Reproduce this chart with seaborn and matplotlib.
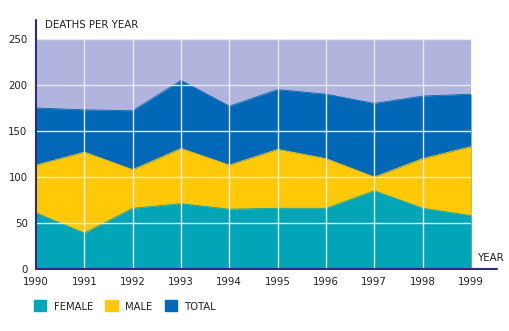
import matplotlib
matplotlib.use("Agg")
import matplotlib.pyplot as plt
from matplotlib.patches import Patch
from matplotlib.lines import Line2D
import seaborn as sns
import pandas as pd

years = [1990, 1991, 1992, 1993, 1994, 1995, 1996, 1997, 1998, 1999]
female = [61, 39, 66, 71, 65, 66, 66, 85, 66, 58]
male = [113, 127, 108, 131, 113, 130, 120, 100, 120, 133]
total = [175, 173, 172, 205, 177, 195, 190, 180, 188, 190]
yticks = [0, 50, 100, 150, 200, 250]

C_BG = "#b1b5dd"
C_TOTAL = "#0068b7"
C_MALE = "#ffc907"
C_FEMALE = "#00a5b8"
C_AXIS = "#2e2c7c"
C_TEXT = "#231f20"

sns.set_style("white")
plt.rcParams["font.family"] = ["DejaVu Sans"]
plt.rcParams["font.stretch"] = "condensed"

df = pd.DataFrame({"year": years, "FEMALE": female, "MALE": male, "TOTAL": total})

fig = plt.figure(figsize=(5.10, 3.31), dpi=100)
ax = fig.add_axes([36 / 510, 1 - 269 / 331, 435 / 510, 230 / 331])
ax.set_facecolor(C_BG)

for col, c in [("TOTAL", C_TOTAL), ("MALE", C_MALE), ("FEMALE", C_FEMALE)]:
    ax.fill_between(df["year"], 0, df[col], color=c, lw=0, zorder=2)
    sns.lineplot(data=df, x="year", y=col, ax=ax, color=c, lw=0.6, zorder=2)

ax.set_xlim(years[0], years[-1])
ax.set_ylim(0, 250)
ax.set_xticks(years)
ax.set_yticks(yticks)
for y in yticks[1:]:
    ax.axhline(y, color="#e6e8f4", lw=1.0, zorder=3)
for x in years[1:-1]:
    ax.axvline(x, color="#e6e8f4", lw=1.0, zorder=3)

for s in ax.spines.values():
    s.set_visible(False)
ax.set_xlabel("")
ax.set_ylabel("")
ax.tick_params(axis="both", length=0, labelsize=8.2, colors=C_TEXT)
ax.tick_params(axis="x", pad=6)
ax.tick_params(axis="y", pad=6)

# axis lines extending beyond the plot
fig.add_artist(Line2D([36 / 510, 36 / 510], [1 - 269 / 331, 1 - 20 / 331], color=C_AXIS, lw=1.5))
fig.add_artist(Line2D([36 / 510, 497 / 510], [1 - 269 / 331, 1 - 269 / 331], color=C_AXIS, lw=1.5))

fig.text(45 / 510, 1 - 25 / 331, "DEATHS PER YEAR", fontsize=8.2, color=C_TEXT, va="center", ha="left")
fig.text(477 / 510, 1 - 258 / 331, "YEAR", fontsize=8.2, color=C_TEXT, va="center", ha="left")

handles = [Patch(color=C_FEMALE, label="FEMALE"), Patch(color=C_MALE, label="MALE"),
           Patch(color=C_TOTAL, label="TOTAL")]
leg = fig.legend(handles=handles, loc="center left", bbox_to_anchor=(34 / 510, 1 - 306 / 331), ncol=3,
                 frameon=False, fontsize=8, handlelength=1.1, handleheight=1.1, handletextpad=0.7,
                 columnspacing=1.1, borderpad=0, borderaxespad=0)
for t in leg.get_texts():
    t.set_color(C_TEXT)

fig.savefig("out.png", dpi=100)
